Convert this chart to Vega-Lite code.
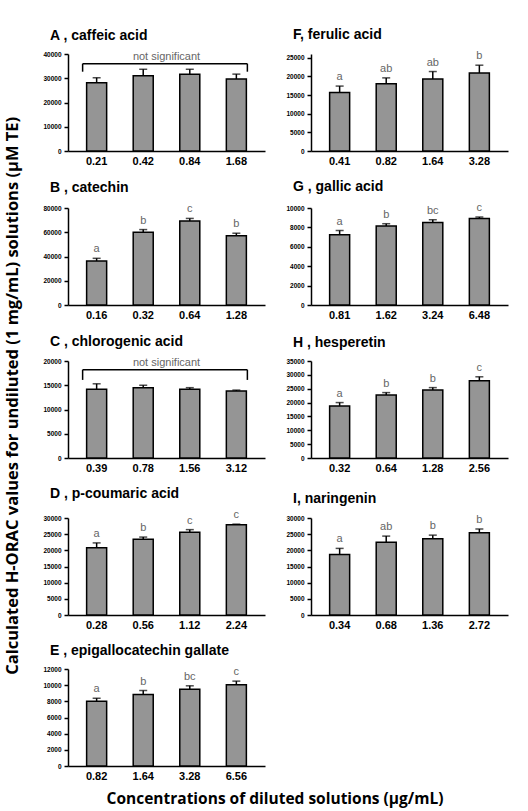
{
  "$schema": "https://vega.github.io/schema/vega-lite/v6.json",
  "background": "white",
  "padding": {"left": 5, "top": 28, "right": 2, "bottom": 2},
  "datasets": {
    "bars": [
      {"panel": "A", "conc": "0.21", "value": 28100, "hi": 30200, "letter": ""},
      {"panel": "A", "conc": "0.42", "value": 31000, "hi": 33700, "letter": ""},
      {"panel": "A", "conc": "0.84", "value": 31600, "hi": 33700, "letter": ""},
      {"panel": "A", "conc": "1.68", "value": 29700, "hi": 31700, "letter": ""},
      {"panel": "B", "conc": "0.16", "value": 36200, "hi": 38500, "letter": "a"},
      {"panel": "B", "conc": "0.32", "value": 60000, "hi": 62200, "letter": "b"},
      {"panel": "B", "conc": "0.64", "value": 69300, "hi": 71400, "letter": "c"},
      {"panel": "B", "conc": "1.28", "value": 57100, "hi": 59200, "letter": "b"},
      {"panel": "C", "conc": "0.39", "value": 14200, "hi": 15300, "letter": ""},
      {"panel": "C", "conc": "0.78", "value": 14500, "hi": 15000, "letter": ""},
      {"panel": "C", "conc": "1.56", "value": 14200, "hi": 14500, "letter": ""},
      {"panel": "C", "conc": "3.12", "value": 13800, "hi": 14000, "letter": ""},
      {"panel": "D", "conc": "0.28", "value": 20800, "hi": 22300, "letter": "a"},
      {"panel": "D", "conc": "0.56", "value": 23400, "hi": 24100, "letter": "b"},
      {"panel": "D", "conc": "1.12", "value": 25600, "hi": 26400, "letter": "c"},
      {"panel": "D", "conc": "2.24", "value": 27900, "hi": 28100, "letter": "c"},
      {"panel": "E", "conc": "0.82", "value": 8000, "hi": 8380, "letter": "a"},
      {"panel": "E", "conc": "1.64", "value": 8840, "hi": 9340, "letter": "b"},
      {"panel": "E", "conc": "3.28", "value": 9500, "hi": 9920, "letter": "bc"},
      {"panel": "E", "conc": "6.56", "value": 10040, "hi": 10500, "letter": "c"},
      {"panel": "F", "conc": "0.41", "value": 15700, "hi": 17400, "letter": "a"},
      {"panel": "F", "conc": "0.82", "value": 18000, "hi": 19600, "letter": "ab"},
      {"panel": "F", "conc": "1.64", "value": 19300, "hi": 21300, "letter": "ab"},
      {"panel": "F", "conc": "3.28", "value": 20900, "hi": 23000, "letter": "b"},
      {"panel": "G", "conc": "0.81", "value": 7240, "hi": 7680, "letter": "a"},
      {"panel": "G", "conc": "1.62", "value": 8140, "hi": 8380, "letter": "b"},
      {"panel": "G", "conc": "3.24", "value": 8510, "hi": 8790, "letter": "bc"},
      {"panel": "G", "conc": "6.48", "value": 8930, "hi": 9070, "letter": "c"},
      {"panel": "H", "conc": "0.32", "value": 18800, "hi": 20000, "letter": "a"},
      {"panel": "H", "conc": "0.64", "value": 22700, "hi": 23600, "letter": "b"},
      {"panel": "H", "conc": "1.28", "value": 24500, "hi": 25400, "letter": "b"},
      {"panel": "H", "conc": "2.56", "value": 27900, "hi": 29300, "letter": "c"},
      {"panel": "I", "conc": "0.34", "value": 18700, "hi": 20600, "letter": "a"},
      {"panel": "I", "conc": "0.68", "value": 22500, "hi": 24400, "letter": "ab"},
      {"panel": "I", "conc": "1.36", "value": 23600, "hi": 24700, "letter": "b"},
      {"panel": "I", "conc": "2.72", "value": 25400, "hi": 26600, "letter": "b"}
    ],
    "brackets": [
      {"panel": "A", "from": "0.21", "to": "1.68", "top": 36000, "end": 32700, "label": "not significant"},
      {"panel": "C", "from": "0.39", "to": "3.12", "top": 18200, "end": 16100, "label": "not significant"}
    ]
  },
  "title": {
    "text": "Calculated H-ORAC values for undiluted (1 mg/mL) solutions (μM TE)",
    "orient": "left",
    "anchor": "middle",
    "frame": "bounds",
    "font": "Open Sans",
    "fontSize": 16.5,
    "fontWeight": "bold",
    "color": "black",
    "dx": 22,
    "offset": 21
  },
  "spacing": 10,
  "vconcat": [
    {
      "columns": 2,
      "spacing": {"row": 14, "column": 20},
      "concat": [
        {
          "width": 197, "height": 97,
          "title": {"text": "A , caffeic acid"},
          "layer": [
            {"data": {"name": "bars"}, "transform": [{"filter": "datum.panel === 'A'"}], "mark": {"type": "rule", "color": "black", "strokeWidth": 1.5},
             "encoding": {"x": {"field": "conc", "type": "nominal", "axis": {"title": null}}, "y": {"field": "value", "type": "quantitative", "scale": {"domain": [0, 40000]}, "axis": {"title": null, "values": [0, 10000, 20000, 30000, 40000]}}, "y2": {"field": "hi"}}},
            {"data": {"name": "bars"}, "transform": [{"filter": "datum.panel === 'A'"}], "mark": {"type": "tick", "color": "black", "thickness": 1.5, "size": 8, "orient": "horizontal"},
             "encoding": {"x": {"field": "conc", "type": "nominal"}, "y": {"field": "hi", "type": "quantitative", "axis": {"title": null, "values": [0, 10000, 20000, 30000, 40000]}}}},
            {"data": {"name": "bars"}, "transform": [{"filter": "datum.panel === 'A'"}], "mark": {"type": "bar", "fill": "#959595", "stroke": "black", "strokeWidth": 1.5},
             "encoding": {"x": {"field": "conc", "type": "nominal"}, "y": {"field": "value", "type": "quantitative", "axis": {"title": null, "values": [0, 10000, 20000, 30000, 40000]}}}},
            {"data": {"name": "brackets"}, "transform": [{"filter": "datum.panel === 'A'"}], "mark": {"type": "rule", "color": "black", "strokeWidth": 1.5},
             "encoding": {"x": {"field": "from", "type": "nominal", "bandPosition": -0.2}, "x2": {"field": "to", "bandPosition": 1.05}, "y": {"field": "top", "type": "quantitative", "axis": {"title": null, "values": [0, 10000, 20000, 30000, 40000]}}}},
            {"data": {"name": "brackets"}, "transform": [{"filter": "datum.panel === 'A'"}], "mark": {"type": "rule", "color": "black", "strokeWidth": 1.5},
             "encoding": {"x": {"field": "from", "type": "nominal", "bandPosition": -0.2}, "y": {"field": "top", "type": "quantitative", "axis": {"title": null, "values": [0, 10000, 20000, 30000, 40000]}}, "y2": {"field": "end"}}},
            {"data": {"name": "brackets"}, "transform": [{"filter": "datum.panel === 'A'"}], "mark": {"type": "rule", "color": "black", "strokeWidth": 1.5},
             "encoding": {"x": {"field": "to", "type": "nominal", "bandPosition": 1.05}, "y": {"field": "top", "type": "quantitative", "axis": {"title": null, "values": [0, 10000, 20000, 30000, 40000]}}, "y2": {"field": "end"}}},
            {"data": {"name": "brackets"}, "transform": [{"filter": "datum.panel === 'A'"}], "mark": {"type": "text", "baseline": "bottom", "dy": -2, "fontSize": 11, "fill": "#666666", "font": "Liberation Sans"},
             "encoding": {"y": {"field": "top", "type": "quantitative", "axis": {"title": null, "values": [0, 10000, 20000, 30000, 40000]}}, "text": {"field": "label"}}}
          ]
        },
        {
          "width": 197, "height": 97,
          "title": {"text": "F, ferulic acid"},
          "data": {"name": "bars"},
          "transform": [{"filter": "datum.panel === 'F'"}],
          "encoding": {"x": {"field": "conc", "type": "nominal", "axis": {"title": null}}},
          "layer": [
            {"mark": {"type": "rule", "color": "black", "strokeWidth": 1.5}, "encoding": {"y": {"field": "value", "type": "quantitative", "scale": {"domain": [0, 25000]}, "axis": {"title": null, "values": [0, 5000, 10000, 15000, 20000, 25000]}}, "y2": {"field": "hi"}}},
            {"mark": {"type": "tick", "color": "black", "thickness": 1.5, "size": 8, "orient": "horizontal"}, "encoding": {"y": {"field": "hi", "type": "quantitative", "axis": {"title": null, "values": [0, 5000, 10000, 15000, 20000, 25000]}}}},
            {"mark": {"type": "bar", "fill": "#959595", "stroke": "black", "strokeWidth": 1.5}, "encoding": {"y": {"field": "value", "type": "quantitative", "axis": {"title": null, "values": [0, 5000, 10000, 15000, 20000, 25000]}}}},
            {"mark": {"type": "text", "baseline": "bottom", "dy": -4, "fontSize": 11, "fill": "#666666", "font": "Liberation Sans"}, "encoding": {"y": {"field": "hi", "type": "quantitative", "axis": {"title": null, "values": [0, 5000, 10000, 15000, 20000, 25000]}}, "text": {"field": "letter"}}}
          ]
        },
        {
          "width": 197, "height": 97,
          "title": {"text": "B , catechin"},
          "data": {"name": "bars"},
          "transform": [{"filter": "datum.panel === 'B'"}],
          "encoding": {"x": {"field": "conc", "type": "nominal", "axis": {"title": null}}},
          "layer": [
            {"mark": {"type": "rule", "color": "black", "strokeWidth": 1.5}, "encoding": {"y": {"field": "value", "type": "quantitative", "scale": {"domain": [0, 80000]}, "axis": {"title": null, "values": [0, 20000, 40000, 60000, 80000]}}, "y2": {"field": "hi"}}},
            {"mark": {"type": "tick", "color": "black", "thickness": 1.5, "size": 8, "orient": "horizontal"}, "encoding": {"y": {"field": "hi", "type": "quantitative", "axis": {"title": null, "values": [0, 20000, 40000, 60000, 80000]}}}},
            {"mark": {"type": "bar", "fill": "#959595", "stroke": "black", "strokeWidth": 1.5}, "encoding": {"y": {"field": "value", "type": "quantitative", "axis": {"title": null, "values": [0, 20000, 40000, 60000, 80000]}}}},
            {"mark": {"type": "text", "baseline": "bottom", "dy": -4, "fontSize": 11, "fill": "#666666", "font": "Liberation Sans"}, "encoding": {"y": {"field": "hi", "type": "quantitative", "axis": {"title": null, "values": [0, 20000, 40000, 60000, 80000]}}, "text": {"field": "letter"}}}
          ]
        },
        {
          "width": 197, "height": 97,
          "title": {"text": "G , gallic acid"},
          "data": {"name": "bars"},
          "transform": [{"filter": "datum.panel === 'G'"}],
          "encoding": {"x": {"field": "conc", "type": "nominal", "axis": {"title": null}}},
          "layer": [
            {"mark": {"type": "rule", "color": "black", "strokeWidth": 1.5}, "encoding": {"y": {"field": "value", "type": "quantitative", "scale": {"domain": [0, 10000]}, "axis": {"title": null, "values": [0, 2000, 4000, 6000, 8000, 10000]}}, "y2": {"field": "hi"}}},
            {"mark": {"type": "tick", "color": "black", "thickness": 1.5, "size": 8, "orient": "horizontal"}, "encoding": {"y": {"field": "hi", "type": "quantitative", "axis": {"title": null, "values": [0, 2000, 4000, 6000, 8000, 10000]}}}},
            {"mark": {"type": "bar", "fill": "#959595", "stroke": "black", "strokeWidth": 1.5}, "encoding": {"y": {"field": "value", "type": "quantitative", "axis": {"title": null, "values": [0, 2000, 4000, 6000, 8000, 10000]}}}},
            {"mark": {"type": "text", "baseline": "bottom", "dy": -4, "fontSize": 11, "fill": "#666666", "font": "Liberation Sans"}, "encoding": {"y": {"field": "hi", "type": "quantitative", "axis": {"title": null, "values": [0, 2000, 4000, 6000, 8000, 10000]}}, "text": {"field": "letter"}}}
          ]
        },
        {
          "width": 197, "height": 97,
          "title": {"text": "C , chlorogenic acid"},
          "layer": [
            {"data": {"name": "bars"}, "transform": [{"filter": "datum.panel === 'C'"}], "mark": {"type": "rule", "color": "black", "strokeWidth": 1.5},
             "encoding": {"x": {"field": "conc", "type": "nominal", "axis": {"title": null}}, "y": {"field": "value", "type": "quantitative", "scale": {"domain": [0, 20000]}, "axis": {"title": null, "values": [0, 5000, 10000, 15000, 20000]}}, "y2": {"field": "hi"}}},
            {"data": {"name": "bars"}, "transform": [{"filter": "datum.panel === 'C'"}], "mark": {"type": "tick", "color": "black", "thickness": 1.5, "size": 8, "orient": "horizontal"},
             "encoding": {"x": {"field": "conc", "type": "nominal"}, "y": {"field": "hi", "type": "quantitative", "axis": {"title": null, "values": [0, 5000, 10000, 15000, 20000]}}}},
            {"data": {"name": "bars"}, "transform": [{"filter": "datum.panel === 'C'"}], "mark": {"type": "bar", "fill": "#959595", "stroke": "black", "strokeWidth": 1.5},
             "encoding": {"x": {"field": "conc", "type": "nominal"}, "y": {"field": "value", "type": "quantitative", "axis": {"title": null, "values": [0, 5000, 10000, 15000, 20000]}}}},
            {"data": {"name": "brackets"}, "transform": [{"filter": "datum.panel === 'C'"}], "mark": {"type": "rule", "color": "black", "strokeWidth": 1.5},
             "encoding": {"x": {"field": "from", "type": "nominal", "bandPosition": -0.2}, "x2": {"field": "to", "bandPosition": 1.05}, "y": {"field": "top", "type": "quantitative", "axis": {"title": null, "values": [0, 5000, 10000, 15000, 20000]}}}},
            {"data": {"name": "brackets"}, "transform": [{"filter": "datum.panel === 'C'"}], "mark": {"type": "rule", "color": "black", "strokeWidth": 1.5},
             "encoding": {"x": {"field": "from", "type": "nominal", "bandPosition": -0.2}, "y": {"field": "top", "type": "quantitative", "axis": {"title": null, "values": [0, 5000, 10000, 15000, 20000]}}, "y2": {"field": "end"}}},
            {"data": {"name": "brackets"}, "transform": [{"filter": "datum.panel === 'C'"}], "mark": {"type": "rule", "color": "black", "strokeWidth": 1.5},
             "encoding": {"x": {"field": "to", "type": "nominal", "bandPosition": 1.05}, "y": {"field": "top", "type": "quantitative", "axis": {"title": null, "values": [0, 5000, 10000, 15000, 20000]}}, "y2": {"field": "end"}}},
            {"data": {"name": "brackets"}, "transform": [{"filter": "datum.panel === 'C'"}], "mark": {"type": "text", "baseline": "bottom", "dy": -2, "fontSize": 11, "fill": "#666666", "font": "Liberation Sans"},
             "encoding": {"y": {"field": "top", "type": "quantitative", "axis": {"title": null, "values": [0, 5000, 10000, 15000, 20000]}}, "text": {"field": "label"}}}
          ]
        },
        {
          "width": 197, "height": 97,
          "title": {"text": "H , hesperetin"},
          "data": {"name": "bars"},
          "transform": [{"filter": "datum.panel === 'H'"}],
          "encoding": {"x": {"field": "conc", "type": "nominal", "axis": {"title": null}}},
          "layer": [
            {"mark": {"type": "rule", "color": "black", "strokeWidth": 1.5}, "encoding": {"y": {"field": "value", "type": "quantitative", "scale": {"domain": [0, 35000]}, "axis": {"title": null, "values": [0, 5000, 10000, 15000, 20000, 25000, 30000, 35000]}}, "y2": {"field": "hi"}}},
            {"mark": {"type": "tick", "color": "black", "thickness": 1.5, "size": 8, "orient": "horizontal"}, "encoding": {"y": {"field": "hi", "type": "quantitative", "axis": {"title": null, "values": [0, 5000, 10000, 15000, 20000, 25000, 30000, 35000]}}}},
            {"mark": {"type": "bar", "fill": "#959595", "stroke": "black", "strokeWidth": 1.5}, "encoding": {"y": {"field": "value", "type": "quantitative", "axis": {"title": null, "values": [0, 5000, 10000, 15000, 20000, 25000, 30000, 35000]}}}},
            {"mark": {"type": "text", "baseline": "bottom", "dy": -4, "fontSize": 11, "fill": "#666666", "font": "Liberation Sans"}, "encoding": {"y": {"field": "hi", "type": "quantitative", "axis": {"title": null, "values": [0, 5000, 10000, 15000, 20000, 25000, 30000, 35000]}}, "text": {"field": "letter"}}}
          ]
        },
        {
          "width": 197, "height": 97,
          "title": {"text": "D , p-coumaric acid"},
          "data": {"name": "bars"},
          "transform": [{"filter": "datum.panel === 'D'"}],
          "encoding": {"x": {"field": "conc", "type": "nominal", "axis": {"title": null}}},
          "layer": [
            {"mark": {"type": "rule", "color": "black", "strokeWidth": 1.5}, "encoding": {"y": {"field": "value", "type": "quantitative", "scale": {"domain": [0, 30000]}, "axis": {"title": null, "values": [0, 5000, 10000, 15000, 20000, 25000, 30000]}}, "y2": {"field": "hi"}}},
            {"mark": {"type": "tick", "color": "black", "thickness": 1.5, "size": 8, "orient": "horizontal"}, "encoding": {"y": {"field": "hi", "type": "quantitative", "axis": {"title": null, "values": [0, 5000, 10000, 15000, 20000, 25000, 30000]}}}},
            {"mark": {"type": "bar", "fill": "#959595", "stroke": "black", "strokeWidth": 1.5}, "encoding": {"y": {"field": "value", "type": "quantitative", "axis": {"title": null, "values": [0, 5000, 10000, 15000, 20000, 25000, 30000]}}}},
            {"mark": {"type": "text", "baseline": "bottom", "dy": -4, "fontSize": 11, "fill": "#666666", "font": "Liberation Sans"}, "encoding": {"y": {"field": "hi", "type": "quantitative", "axis": {"title": null, "values": [0, 5000, 10000, 15000, 20000, 25000, 30000]}}, "text": {"field": "letter"}}}
          ]
        },
        {
          "width": 197, "height": 97,
          "title": {"text": "I, naringenin"},
          "data": {"name": "bars"},
          "transform": [{"filter": "datum.panel === 'I'"}],
          "encoding": {"x": {"field": "conc", "type": "nominal", "axis": {"title": null}}},
          "layer": [
            {"mark": {"type": "rule", "color": "black", "strokeWidth": 1.5}, "encoding": {"y": {"field": "value", "type": "quantitative", "scale": {"domain": [0, 30000]}, "axis": {"title": null, "values": [0, 5000, 10000, 15000, 20000, 25000, 30000]}}, "y2": {"field": "hi"}}},
            {"mark": {"type": "tick", "color": "black", "thickness": 1.5, "size": 8, "orient": "horizontal"}, "encoding": {"y": {"field": "hi", "type": "quantitative", "axis": {"title": null, "values": [0, 5000, 10000, 15000, 20000, 25000, 30000]}}}},
            {"mark": {"type": "bar", "fill": "#959595", "stroke": "black", "strokeWidth": 1.5}, "encoding": {"y": {"field": "value", "type": "quantitative", "axis": {"title": null, "values": [0, 5000, 10000, 15000, 20000, 25000, 30000]}}}},
            {"mark": {"type": "text", "baseline": "bottom", "dy": -4, "fontSize": 11, "fill": "#666666", "font": "Liberation Sans"}, "encoding": {"y": {"field": "hi", "type": "quantitative", "axis": {"title": null, "values": [0, 5000, 10000, 15000, 20000, 25000, 30000]}}, "text": {"field": "letter"}}}
          ]
        },
        {
          "width": 197, "height": 97,
          "title": {"text": "E , epigallocatechin gallate"},
          "data": {"name": "bars"},
          "transform": [{"filter": "datum.panel === 'E'"}],
          "encoding": {"x": {"field": "conc", "type": "nominal", "axis": {"title": null}}},
          "layer": [
            {"mark": {"type": "rule", "color": "black", "strokeWidth": 1.5}, "encoding": {"y": {"field": "value", "type": "quantitative", "scale": {"domain": [0, 12000]}, "axis": {"title": null, "values": [0, 2000, 4000, 6000, 8000, 10000, 12000]}}, "y2": {"field": "hi"}}},
            {"mark": {"type": "tick", "color": "black", "thickness": 1.5, "size": 8, "orient": "horizontal"}, "encoding": {"y": {"field": "hi", "type": "quantitative", "axis": {"title": null, "values": [0, 2000, 4000, 6000, 8000, 10000, 12000]}}}},
            {"mark": {"type": "bar", "fill": "#959595", "stroke": "black", "strokeWidth": 1.5}, "encoding": {"y": {"field": "value", "type": "quantitative", "axis": {"title": null, "values": [0, 2000, 4000, 6000, 8000, 10000, 12000]}}}},
            {"mark": {"type": "text", "baseline": "bottom", "dy": -4, "fontSize": 11, "fill": "#666666", "font": "Liberation Sans"}, "encoding": {"y": {"field": "hi", "type": "quantitative", "axis": {"title": null, "values": [0, 2000, 4000, 6000, 8000, 10000, 12000]}}, "text": {"field": "letter"}}}
          ]
        }
      ]
    },
    {
      "width": 414, "height": 16,
      "data": {"values": [{"label": "Concentrations of diluted solutions (μg/mL)"}]},
      "mark": {"type": "text", "font": "Open Sans", "fontSize": 15.5, "fontWeight": "bold", "fill": "black", "baseline": "middle"},
      "encoding": {"text": {"field": "label"}}
    }
  ],
  "config": {
    "view": {"stroke": null},
    "font": "Liberation Sans",
    "scale": {"bandPaddingInner": 0.57, "bandPaddingOuter": 0.4},
    "title": {"anchor": "start", "frame": "group", "dx": -18, "font": "Liberation Sans", "fontSize": 14, "fontWeight": "bold", "color": "black", "offset": 8},
    "axisX": {"labelAngle": 0, "ticks": false, "domainColor": "black", "domainWidth": 1.5, "labelFont": "Liberation Sans", "labelFontSize": 11, "labelFontWeight": "bold", "labelColor": "black", "labelPadding": 4, "grid": false, "labelOverlap": false},
    "axisY": {"format": "d", "grid": false, "domainColor": "black", "domainWidth": 1.5, "tickColor": "black", "tickWidth": 1.5, "tickSize": 4, "labelFont": "Liberation Sans", "labelFontSize": 6.5, "labelFontWeight": "bold", "labelColor": "black", "labelPadding": 3, "labelOverlap": false}
  }
}
